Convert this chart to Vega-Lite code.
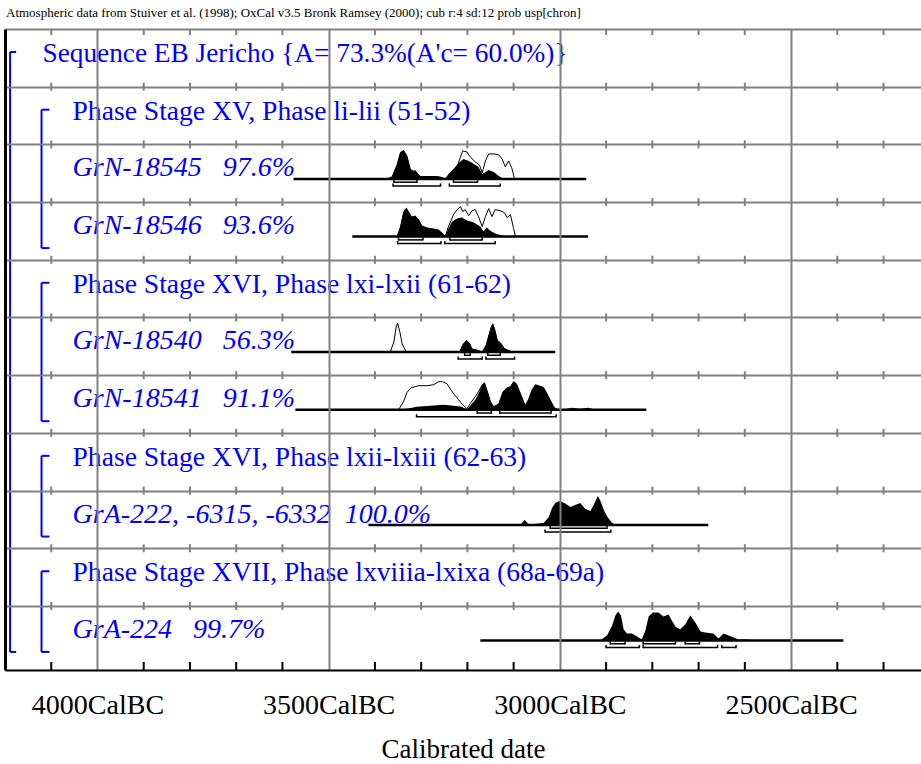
{
"$schema": "https://vega.github.io/schema/vega-lite/v6.json",
"width": 916, "height": 641,
"autosize": {"type": "none"},
"padding": {"left": 5, "top": 29, "right": 0, "bottom": 94},
"background": "white",
"config": {"view": {"stroke": null}, "font": "Liberation Serif"},
"title": {"text": "Atmospheric data from Stuiver et al. (1998); OxCal v3.5 Bronk Ramsey (2000); cub r:4 sd:12 prob usp[chron]", "anchor": "start", "fontSize": 13, "font": "Liberation Serif", "fontWeight": "normal", "color": "black", "offset": 12, "baseline": "alphabetic", "dx": 1, "dy": 14, "frame": "group"},
"datasets": {
"minor": [
{"yr":4100,"ln":[1,2,3,4,5,6,7,8,9,10]},{"yr":3900,"ln":[1,2,3,4,5,6,7,8,9,10]},{"yr":3800,"ln":[1,2,3,4,5,6,7,8,9,10]},{"yr":3700,"ln":[1,2,3,4,5,6,7,8,9,10]},{"yr":3600,"ln":[1,2,3,4,5,6,7,8,9,10]},
{"yr":3400,"ln":[1,2,3,4,5,6,7,8,9,10]},{"yr":3300,"ln":[1,2,3,4,5,6,7,8,9,10]},{"yr":3200,"ln":[1,2,3,4,5,6,7,8,9,10]},{"yr":3100,"ln":[1,2,3,4,5,6,7,8,9,10]},
{"yr":2900,"ln":[1,2,3,4,5,6,7,8,9,10]},{"yr":2800,"ln":[1,2,3,4,5,6,7,8,9,10]},{"yr":2700,"ln":[1,2,3,4,5,6,7,8,9,10]},{"yr":2600,"ln":[1,2,3,4,5,6,7,8,9,10]},
{"yr":2400,"ln":[1,2,3,4,5,6,7,8,9,10]},{"yr":2300,"ln":[1,2,3,4,5,6,7,8,9,10]}
],
"labels": [
{"row":0,"kind":"seq","txt":"Sequence EB Jericho {A= 73.3%(A'c= 60.0%)}"},
{"row":1,"kind":"phase","txt":"Phase Stage XV, Phase li-lii (51-52)"},
{"row":2,"kind":"sample","txt":"GrN-18545\u00a0\u00a0\u00a097.6%"},
{"row":3,"kind":"sample","txt":"GrN-18546\u00a0\u00a0\u00a093.6%"},
{"row":4,"kind":"phase","txt":"Phase Stage XVI, Phase lxi-lxii (61-62)"},
{"row":5,"kind":"sample","txt":"GrN-18540\u00a0\u00a0\u00a056.3%"},
{"row":6,"kind":"sample","txt":"GrN-18541\u00a0\u00a0\u00a091.1%"},
{"row":7,"kind":"phase","txt":"Phase Stage XVI, Phase lxii-lxiii (62-63)"},
{"row":8,"kind":"sample","txt":"GrA-222, -6315, -6332\u00a0\u00a0100.0%"},
{"row":9,"kind":"phase","txt":"Phase Stage XVII, Phase lxviiia-lxixa (68a-69a)"},
{"row":10,"kind":"sample","txt":"GrA-224\u00a0\u00a0\u00a099.7%"}
],
"brackets": [
{"kind":"seq","r0":0,"r1":10},{"kind":"phase","r0":1,"r1":3},{"kind":"phase","r0":4,"r1":6},{"kind":"phase","r0":7,"r1":8},{"kind":"phase","r0":9,"r1":10}
],
"lines": [
{"row":2,"a":3576,"b":2943},{"row":3,"a":3449,"b":2939},{"row":5,"a":3581,"b":3010},{"row":6,"a":3572,"b":2813},{"row":8,"a":3414,"b":2679},{"row":10,"a":3172,"b":2387}
],
"ranges": [
{"row":2,"lvl":68,"a":3359,"b":3309},{"row":2,"lvl":68,"a":3230,"b":3178},{"row":2,"lvl":95,"a":3361,"b":3258},{"row":2,"lvl":95,"a":3239,"b":3129},
{"row":3,"lvl":68,"a":3349,"b":3296},{"row":3,"lvl":68,"a":3238,"b":3168},{"row":3,"lvl":95,"a":3351,"b":3257},{"row":3,"lvl":95,"a":3249,"b":3140},
{"row":5,"lvl":68,"a":3206,"b":3194},{"row":5,"lvl":68,"a":3156,"b":3129},{"row":5,"lvl":95,"a":3220,"b":3168},{"row":5,"lvl":95,"a":3160,"b":3098},
{"row":6,"lvl":68,"a":3179,"b":3148},{"row":6,"lvl":68,"a":3130,"b":3019},{"row":6,"lvl":95,"a":3310,"b":3008},
{"row":8,"lvl":68,"a":3021,"b":2898},{"row":8,"lvl":95,"a":3032,"b":2890},
{"row":10,"lvl":68,"a":2891,"b":2859},{"row":10,"lvl":68,"a":2820,"b":2750},{"row":10,"lvl":68,"a":2729,"b":2698},
{"row":10,"lvl":95,"a":2900,"b":2828},{"row":10,"lvl":95,"a":2820,"b":2659},{"row":10,"lvl":95,"a":2650,"b":2619}
],
"dens": [
{"s":"18545","k":"P","yr":3374,"p":0},{"s":"18545","k":"P","yr":3363,"p":2},{"s":"18545","k":"P","yr":3352,"p":15},{"s":"18545","k":"P","yr":3345,"p":27},{"s":"18545","k":"P","yr":3338,"p":29},{"s":"18545","k":"P","yr":3331,"p":24},{"s":"18545","k":"P","yr":3323,"p":10},{"s":"18545","k":"P","yr":3316,"p":8},{"s":"18545","k":"P","yr":3313,"p":9},{"s":"18545","k":"P","yr":3308,"p":6},{"s":"18545","k":"P","yr":3302,"p":3},{"s":"18545","k":"P","yr":3287,"p":3},{"s":"18545","k":"P","yr":3266,"p":3},{"s":"18545","k":"P","yr":3255,"p":2},{"s":"18545","k":"P","yr":3248,"p":0},{"s":"18545","k":"P","yr":3241,"p":5},{"s":"18545","k":"P","yr":3230,"p":10},{"s":"18545","k":"P","yr":3219,"p":16},{"s":"18545","k":"P","yr":3208,"p":20},{"s":"18545","k":"P","yr":3197,"p":18},{"s":"18545","k":"P","yr":3186,"p":15},{"s":"18545","k":"P","yr":3176,"p":12},{"s":"18545","k":"P","yr":3168,"p":5},{"s":"18545","k":"P","yr":3161,"p":7},{"s":"18545","k":"P","yr":3154,"p":9},{"s":"18545","k":"P","yr":3143,"p":7},{"s":"18545","k":"P","yr":3132,"p":3},{"s":"18545","k":"P","yr":3122,"p":0},
{"s":"18545","k":"L","yr":3374,"p":0},{"s":"18545","k":"L","yr":3363,"p":2},{"s":"18545","k":"L","yr":3352,"p":14},{"s":"18545","k":"L","yr":3345,"p":26},{"s":"18545","k":"L","yr":3338,"p":28},{"s":"18545","k":"L","yr":3331,"p":23},{"s":"18545","k":"L","yr":3323,"p":9},{"s":"18545","k":"L","yr":3316,"p":7},{"s":"18545","k":"L","yr":3313,"p":8},{"s":"18545","k":"L","yr":3308,"p":5},{"s":"18545","k":"L","yr":3302,"p":2},{"s":"18545","k":"L","yr":3287,"p":2},{"s":"18545","k":"L","yr":3266,"p":2},{"s":"18545","k":"L","yr":3255,"p":1},{"s":"18545","k":"L","yr":3248,"p":0},{"s":"18545","k":"L","yr":3237,"p":4},{"s":"18545","k":"L","yr":3222,"p":12},{"s":"18545","k":"L","yr":3215,"p":22},{"s":"18545","k":"L","yr":3210,"p":28},{"s":"18545","k":"L","yr":3201,"p":27},{"s":"18545","k":"L","yr":3194,"p":22},{"s":"18545","k":"L","yr":3183,"p":17},{"s":"18545","k":"L","yr":3174,"p":14},{"s":"18545","k":"L","yr":3168,"p":6},{"s":"18545","k":"L","yr":3161,"p":18},{"s":"18545","k":"L","yr":3154,"p":25},{"s":"18545","k":"L","yr":3143,"p":25},{"s":"18545","k":"L","yr":3132,"p":24},{"s":"18545","k":"L","yr":3125,"p":20},{"s":"18545","k":"L","yr":3118,"p":12},{"s":"18545","k":"L","yr":3111,"p":18},{"s":"18545","k":"L","yr":3104,"p":11},{"s":"18545","k":"L","yr":3098,"p":0},
{"s":"18546","k":"P","yr":3352,"p":0},{"s":"18546","k":"P","yr":3345,"p":10},{"s":"18546","k":"P","yr":3338,"p":25},{"s":"18546","k":"P","yr":3332,"p":29},{"s":"18546","k":"P","yr":3327,"p":25},{"s":"18546","k":"P","yr":3320,"p":20},{"s":"18546","k":"P","yr":3313,"p":21},{"s":"18546","k":"P","yr":3305,"p":17},{"s":"18546","k":"P","yr":3298,"p":11},{"s":"18546","k":"P","yr":3287,"p":9},{"s":"18546","k":"P","yr":3273,"p":8},{"s":"18546","k":"P","yr":3262,"p":7},{"s":"18546","k":"P","yr":3255,"p":4},{"s":"18546","k":"P","yr":3248,"p":0},{"s":"18546","k":"P","yr":3241,"p":8},{"s":"18546","k":"P","yr":3233,"p":15},{"s":"18546","k":"P","yr":3222,"p":18},{"s":"18546","k":"P","yr":3212,"p":19},{"s":"18546","k":"P","yr":3201,"p":16},{"s":"18546","k":"P","yr":3186,"p":14},{"s":"18546","k":"P","yr":3172,"p":10},{"s":"18546","k":"P","yr":3165,"p":5},{"s":"18546","k":"P","yr":3158,"p":9},{"s":"18546","k":"P","yr":3151,"p":6},{"s":"18546","k":"P","yr":3140,"p":3},{"s":"18546","k":"P","yr":3125,"p":1},{"s":"18546","k":"P","yr":3114,"p":0},
{"s":"18546","k":"L","yr":3352,"p":0},{"s":"18546","k":"L","yr":3345,"p":9},{"s":"18546","k":"L","yr":3338,"p":24},{"s":"18546","k":"L","yr":3332,"p":28},{"s":"18546","k":"L","yr":3327,"p":24},{"s":"18546","k":"L","yr":3320,"p":19},{"s":"18546","k":"L","yr":3313,"p":20},{"s":"18546","k":"L","yr":3305,"p":16},{"s":"18546","k":"L","yr":3298,"p":10},{"s":"18546","k":"L","yr":3287,"p":8},{"s":"18546","k":"L","yr":3273,"p":7},{"s":"18546","k":"L","yr":3262,"p":6},{"s":"18546","k":"L","yr":3255,"p":3},{"s":"18546","k":"L","yr":3248,"p":0},{"s":"18546","k":"L","yr":3241,"p":10},{"s":"18546","k":"L","yr":3230,"p":22},{"s":"18546","k":"L","yr":3222,"p":27},{"s":"18546","k":"L","yr":3215,"p":30},{"s":"18546","k":"L","yr":3210,"p":25},{"s":"18546","k":"L","yr":3205,"p":27},{"s":"18546","k":"L","yr":3197,"p":21},{"s":"18546","k":"L","yr":3190,"p":26},{"s":"18546","k":"L","yr":3183,"p":27},{"s":"18546","k":"L","yr":3176,"p":20},{"s":"18546","k":"L","yr":3168,"p":10},{"s":"18546","k":"L","yr":3161,"p":20},{"s":"18546","k":"L","yr":3154,"p":28},{"s":"18546","k":"L","yr":3147,"p":20},{"s":"18546","k":"L","yr":3140,"p":27},{"s":"18546","k":"L","yr":3129,"p":26},{"s":"18546","k":"L","yr":3120,"p":24},{"s":"18546","k":"L","yr":3114,"p":19},{"s":"18546","k":"L","yr":3107,"p":22},{"s":"18546","k":"L","yr":3100,"p":8},{"s":"18546","k":"L","yr":3096,"p":0},
{"s":"18540","k":"L","yr":3367,"p":0},{"s":"18540","k":"L","yr":3359,"p":10},{"s":"18540","k":"L","yr":3354,"p":25},{"s":"18540","k":"L","yr":3351,"p":29},{"s":"18540","k":"L","yr":3346,"p":20},{"s":"18540","k":"L","yr":3341,"p":8},{"s":"18540","k":"L","yr":3332,"p":0},{"s":"18540","k":"L","yr":3217,"p":0},{"s":"18540","k":"L","yr":3210,"p":7},{"s":"18540","k":"L","yr":3202,"p":11},{"s":"18540","k":"L","yr":3195,"p":8},{"s":"18540","k":"L","yr":3190,"p":3},{"s":"18540","k":"L","yr":3179,"p":2},{"s":"18540","k":"L","yr":3168,"p":0},{"s":"18540","k":"L","yr":3159,"p":7},{"s":"18540","k":"L","yr":3154,"p":16},{"s":"18540","k":"L","yr":3149,"p":24},{"s":"18540","k":"L","yr":3145,"p":28},{"s":"18540","k":"L","yr":3140,"p":21},{"s":"18540","k":"L","yr":3135,"p":11},{"s":"18540","k":"L","yr":3127,"p":8},{"s":"18540","k":"L","yr":3120,"p":3},{"s":"18540","k":"L","yr":3111,"p":1},{"s":"18540","k":"L","yr":3100,"p":0},
{"s":"18540","k":"P","yr":3217,"p":0},{"s":"18540","k":"P","yr":3210,"p":8},{"s":"18540","k":"P","yr":3202,"p":12},{"s":"18540","k":"P","yr":3195,"p":9},{"s":"18540","k":"P","yr":3190,"p":3},{"s":"18540","k":"P","yr":3179,"p":2},{"s":"18540","k":"P","yr":3168,"p":0},{"s":"18540","k":"P","yr":3159,"p":8},{"s":"18540","k":"P","yr":3154,"p":17},{"s":"18540","k":"P","yr":3149,"p":25},{"s":"18540","k":"P","yr":3145,"p":29},{"s":"18540","k":"P","yr":3140,"p":22},{"s":"18540","k":"P","yr":3135,"p":12},{"s":"18540","k":"P","yr":3127,"p":9},{"s":"18540","k":"P","yr":3120,"p":4},{"s":"18540","k":"P","yr":3111,"p":2},{"s":"18540","k":"P","yr":3100,"p":0},
{"s":"18541","k":"L","yr":3349,"p":0},{"s":"18541","k":"L","yr":3338,"p":8},{"s":"18541","k":"L","yr":3331,"p":17},{"s":"18541","k":"L","yr":3322,"p":22},{"s":"18541","k":"L","yr":3313,"p":23},{"s":"18541","k":"L","yr":3307,"p":24},{"s":"18541","k":"L","yr":3298,"p":24},{"s":"18541","k":"L","yr":3287,"p":24},{"s":"18541","k":"L","yr":3273,"p":25},{"s":"18541","k":"L","yr":3262,"p":28},{"s":"18541","k":"L","yr":3254,"p":28},{"s":"18541","k":"L","yr":3244,"p":26},{"s":"18541","k":"L","yr":3236,"p":20},{"s":"18541","k":"L","yr":3228,"p":15},{"s":"18541","k":"L","yr":3219,"p":10},{"s":"18541","k":"L","yr":3210,"p":5},{"s":"18541","k":"L","yr":3201,"p":1},{"s":"18541","k":"L","yr":3194,"p":6},{"s":"18541","k":"L","yr":3183,"p":13},{"s":"18541","k":"L","yr":3176,"p":18},{"s":"18541","k":"L","yr":3168,"p":25},{"s":"18541","k":"L","yr":3163,"p":27},{"s":"18541","k":"L","yr":3158,"p":20},{"s":"18541","k":"L","yr":3150,"p":8},{"s":"18541","k":"L","yr":3143,"p":3},{"s":"18541","k":"L","yr":3132,"p":6},{"s":"18541","k":"L","yr":3123,"p":18},{"s":"18541","k":"L","yr":3114,"p":22},{"s":"18541","k":"L","yr":3107,"p":23},{"s":"18541","k":"L","yr":3100,"p":28},{"s":"18541","k":"L","yr":3094,"p":26},{"s":"18541","k":"L","yr":3086,"p":17},{"s":"18541","k":"L","yr":3075,"p":4},{"s":"18541","k":"L","yr":3068,"p":10},{"s":"18541","k":"L","yr":3060,"p":20},{"s":"18541","k":"L","yr":3053,"p":25},{"s":"18541","k":"L","yr":3046,"p":24},{"s":"18541","k":"L","yr":3035,"p":22},{"s":"18541","k":"L","yr":3028,"p":16},{"s":"18541","k":"L","yr":3019,"p":8},{"s":"18541","k":"L","yr":3012,"p":2},{"s":"18541","k":"L","yr":3003,"p":0},
{"s":"18541","k":"P","yr":3349,"p":0},{"s":"18541","k":"P","yr":3331,"p":1},{"s":"18541","k":"P","yr":3309,"p":3},{"s":"18541","k":"P","yr":3280,"p":4},{"s":"18541","k":"P","yr":3251,"p":5},{"s":"18541","k":"P","yr":3230,"p":4},{"s":"18541","k":"P","yr":3212,"p":3},{"s":"18541","k":"P","yr":3201,"p":0},{"s":"18541","k":"P","yr":3194,"p":4},{"s":"18541","k":"P","yr":3183,"p":10},{"s":"18541","k":"P","yr":3176,"p":16},{"s":"18541","k":"P","yr":3168,"p":25},{"s":"18541","k":"P","yr":3163,"p":27},{"s":"18541","k":"P","yr":3158,"p":20},{"s":"18541","k":"P","yr":3150,"p":8},{"s":"18541","k":"P","yr":3143,"p":3},{"s":"18541","k":"P","yr":3132,"p":6},{"s":"18541","k":"P","yr":3123,"p":18},{"s":"18541","k":"P","yr":3114,"p":22},{"s":"18541","k":"P","yr":3107,"p":23},{"s":"18541","k":"P","yr":3100,"p":28},{"s":"18541","k":"P","yr":3094,"p":26},{"s":"18541","k":"P","yr":3086,"p":17},{"s":"18541","k":"P","yr":3075,"p":4},{"s":"18541","k":"P","yr":3068,"p":10},{"s":"18541","k":"P","yr":3060,"p":20},{"s":"18541","k":"P","yr":3053,"p":25},{"s":"18541","k":"P","yr":3046,"p":24},{"s":"18541","k":"P","yr":3035,"p":22},{"s":"18541","k":"P","yr":3028,"p":16},{"s":"18541","k":"P","yr":3019,"p":8},{"s":"18541","k":"P","yr":3012,"p":2},{"s":"18541","k":"P","yr":3003,"p":0},{"s":"18541","k":"P","yr":2985,"p":1},{"s":"18541","k":"P","yr":2974,"p":2},{"s":"18541","k":"P","yr":2956,"p":1},{"s":"18541","k":"P","yr":2938,"p":2},{"s":"18541","k":"P","yr":2923,"p":0},
{"s":"GrA-222","k":"P","yr":3086,"p":0},{"s":"GrA-222","k":"P","yr":3076,"p":5},{"s":"GrA-222","k":"P","yr":3068,"p":1},{"s":"GrA-222","k":"P","yr":3057,"p":1},{"s":"GrA-222","k":"P","yr":3035,"p":2},{"s":"GrA-222","k":"P","yr":3024,"p":8},{"s":"GrA-222","k":"P","yr":3017,"p":17},{"s":"GrA-222","k":"P","yr":3010,"p":22},{"s":"GrA-222","k":"P","yr":3001,"p":24},{"s":"GrA-222","k":"P","yr":2990,"p":22},{"s":"GrA-222","k":"P","yr":2977,"p":18},{"s":"GrA-222","k":"P","yr":2967,"p":20},{"s":"GrA-222","k":"P","yr":2956,"p":22},{"s":"GrA-222","k":"P","yr":2945,"p":16},{"s":"GrA-222","k":"P","yr":2934,"p":14},{"s":"GrA-222","k":"P","yr":2927,"p":20},{"s":"GrA-222","k":"P","yr":2918,"p":29},{"s":"GrA-222","k":"P","yr":2913,"p":25},{"s":"GrA-222","k":"P","yr":2905,"p":15},{"s":"GrA-222","k":"P","yr":2897,"p":8},{"s":"GrA-222","k":"P","yr":2887,"p":2},{"s":"GrA-222","k":"P","yr":2877,"p":0},
{"s":"GrA-224","k":"P","yr":2913,"p":0},{"s":"GrA-224","k":"P","yr":2898,"p":5},{"s":"GrA-224","k":"P","yr":2887,"p":15},{"s":"GrA-224","k":"P","yr":2880,"p":25},{"s":"GrA-224","k":"P","yr":2874,"p":29},{"s":"GrA-224","k":"P","yr":2868,"p":25},{"s":"GrA-224","k":"P","yr":2862,"p":11},{"s":"GrA-224","k":"P","yr":2855,"p":7},{"s":"GrA-224","k":"P","yr":2844,"p":7},{"s":"GrA-224","k":"P","yr":2833,"p":4},{"s":"GrA-224","k":"P","yr":2823,"p":1},{"s":"GrA-224","k":"P","yr":2815,"p":10},{"s":"GrA-224","k":"P","yr":2808,"p":24},{"s":"GrA-224","k":"P","yr":2799,"p":28},{"s":"GrA-224","k":"P","yr":2787,"p":28},{"s":"GrA-224","k":"P","yr":2776,"p":24},{"s":"GrA-224","k":"P","yr":2765,"p":26},{"s":"GrA-224","k":"P","yr":2758,"p":20},{"s":"GrA-224","k":"P","yr":2750,"p":14},{"s":"GrA-224","k":"P","yr":2740,"p":11},{"s":"GrA-224","k":"P","yr":2729,"p":16},{"s":"GrA-224","k":"P","yr":2718,"p":25},{"s":"GrA-224","k":"P","yr":2707,"p":18},{"s":"GrA-224","k":"P","yr":2696,"p":9},{"s":"GrA-224","k":"P","yr":2686,"p":8},{"s":"GrA-224","k":"P","yr":2668,"p":7},{"s":"GrA-224","k":"P","yr":2657,"p":2},{"s":"GrA-224","k":"P","yr":2646,"p":7},{"s":"GrA-224","k":"P","yr":2635,"p":5},{"s":"GrA-224","k":"P","yr":2624,"p":3},{"s":"GrA-224","k":"P","yr":2614,"p":1},{"s":"GrA-224","k":"P","yr":2596,"p":1},{"s":"GrA-224","k":"P","yr":2581,"p":0}
]
},
"resolve": {"scale": {"y": "independent"}, "axis": {"y": "independent"}},
"layer": [
{
"layer": [
{"data": {"name": "minor"}, "transform": [{"flatten": ["ln"]}],
 "mark": {"type": "rule", "color": "#808080", "strokeWidth": 2, "yOffset": -4, "y2Offset": 4},
 "encoding": {
  "x": {"field": "yr", "type": "quantitative", "scale": {"domain": [2219, 4200], "reverse": true, "nice": false, "zero": false},
   "axis": {"values": [4000, 3500, 3000, 2500], "grid": true, "gridColor": "#808080", "gridWidth": 2, "ticks": false, "domain": true, "domainColor": "black", "domainWidth": 2, "labelExpr": "datum.value + 'CalBC'", "labelFont": "Liberation Serif", "labelFontSize": 28, "labelColor": "black", "labelBaseline": "alphabetic", "labelPadding": 43, "labelFlush": false, "labelOverlap": false, "title": "Calibrated date", "titleFont": "Liberation Serif", "titleFontSize": 27, "titleFontWeight": "normal", "titleColor": "black", "titleBaseline": "alphabetic", "titleY": 87, "zindex": 1}},
  "y": {"field": "ln", "type": "quantitative", "scale": {"domain": [0, 11.11], "reverse": true, "nice": false, "zero": false},
   "axis": {"values": [0,1,2,3,4,5,6,7,8,9,10], "grid": true, "gridColor": "#808080", "gridWidth": 2, "ticks": false, "labels": false, "domain": true, "domainColor": "black", "domainWidth": 3, "title": null, "zindex": 1}},
  "y2": {"field": "ln"}
 }},
{"data": {"name": "minor"},
 "mark": {"type": "rule", "color": "#808080", "strokeWidth": 2, "y2Offset": 6},
 "encoding": {"x": {"field": "yr", "type": "quantitative"}, "y": {"datum": 0}, "y2": {"datum": 0}}},
{"data": {"name": "minor"},
 "mark": {"type": "rule", "color": "black", "strokeWidth": 2, "yOffset": -8},
 "encoding": {"x": {"field": "yr", "type": "quantitative"}, "y": {"datum": 11.11}, "y2": {"datum": 11.11}}},
{"data": {"name": "labels"}, "transform": [{"filter": "datum.kind == 'seq'"}],
 "mark": {"type": "text", "align": "left", "baseline": "alphabetic", "dy": 33, "font": "Liberation Serif", "fontSize": 27.3, "color": "blue"},
 "encoding": {"x": {"datum": 4119}, "y": {"field": "row", "type": "quantitative"}, "text": {"field": "txt"}}},
{"data": {"name": "labels"}, "transform": [{"filter": "datum.kind == 'phase'"}],
 "mark": {"type": "text", "align": "left", "baseline": "alphabetic", "dy": 33, "font": "Liberation Serif", "fontSize": 27.6, "color": "blue"},
 "encoding": {"x": {"datum": 4054}, "y": {"field": "row", "type": "quantitative"}, "text": {"field": "txt"}}},
{"data": {"name": "labels"}, "transform": [{"filter": "datum.kind == 'sample'"}],
 "mark": {"type": "text", "align": "left", "baseline": "alphabetic", "dy": 32, "font": "Liberation Serif", "fontSize": 28, "fontStyle": "italic", "color": "blue"},
 "encoding": {"x": {"datum": 4054}, "y": {"field": "row", "type": "quantitative"}, "text": {"field": "txt"}}},
{"data": {"name": "brackets"}, "transform": [{"filter": "datum.kind == 'seq'"}],
 "mark": {"type": "rule", "color": "blue", "strokeWidth": 2, "yOffset": 23, "y2Offset": 46},
 "encoding": {"x": {"datum": 4189}, "y": {"field": "r0", "type": "quantitative"}, "y2": {"field": "r1"}}},
{"data": {"name": "brackets"}, "transform": [{"filter": "datum.kind == 'seq'"}],
 "mark": {"type": "rule", "color": "blue", "strokeWidth": 2, "yOffset": 23},
 "encoding": {"x": {"datum": 4189}, "x2": {"datum": 4176}, "y": {"field": "r0", "type": "quantitative"}}},
{"data": {"name": "brackets"}, "transform": [{"filter": "datum.kind == 'seq'"}],
 "mark": {"type": "rule", "color": "blue", "strokeWidth": 2, "yOffset": 46},
 "encoding": {"x": {"datum": 4189}, "x2": {"datum": 4176}, "y": {"field": "r1", "type": "quantitative"}}},
{"data": {"name": "brackets"}, "transform": [{"filter": "datum.kind == 'phase'"}],
 "mark": {"type": "rule", "color": "blue", "strokeWidth": 2, "yOffset": 23, "y2Offset": 46},
 "encoding": {"x": {"datum": 4121}, "y": {"field": "r0", "type": "quantitative"}, "y2": {"field": "r1"}}},
{"data": {"name": "brackets"}, "transform": [{"filter": "datum.kind == 'phase'"}],
 "mark": {"type": "rule", "color": "blue", "strokeWidth": 2, "yOffset": 23},
 "encoding": {"x": {"datum": 4121}, "x2": {"datum": 4104}, "y": {"field": "r0", "type": "quantitative"}}},
{"data": {"name": "brackets"}, "transform": [{"filter": "datum.kind == 'phase'"}],
 "mark": {"type": "rule", "color": "blue", "strokeWidth": 2, "yOffset": 46},
 "encoding": {"x": {"datum": 4121}, "x2": {"datum": 4104}, "y": {"field": "r1", "type": "quantitative"}}}
]
},
{"data": {"name": "dens"}, "transform": [{"filter": "datum.s == '18545'"}],
 "encoding": {"x": {"field": "yr", "type": "quantitative"}, "y": {"field": "p", "type": "quantitative", "scale": {"domain": [-491.1, 149.9], "nice": false, "zero": false}, "axis": null}, "y2": {"datum": 0}},
 "layer": [
  {"transform": [{"filter": "datum.k == 'L'"}], "mark": {"type": "area", "fill": "white", "stroke": "black", "strokeWidth": 1}},
  {"transform": [{"filter": "datum.k == 'P'"}], "mark": {"type": "area", "color": "black"}}
 ]},
{"data": {"name": "dens"}, "transform": [{"filter": "datum.s == '18546'"}],
 "encoding": {"x": {"field": "yr", "type": "quantitative"}, "y": {"field": "p", "type": "quantitative", "scale": {"domain": [-433.4, 207.6], "nice": false, "zero": false}, "axis": null}, "y2": {"datum": 0}},
 "layer": [
  {"transform": [{"filter": "datum.k == 'L'"}], "mark": {"type": "area", "fill": "white", "stroke": "black", "strokeWidth": 1}},
  {"transform": [{"filter": "datum.k == 'P'"}], "mark": {"type": "area", "color": "black"}}
 ]},
{"data": {"name": "dens"}, "transform": [{"filter": "datum.s == '18540'"}],
 "encoding": {"x": {"field": "yr", "type": "quantitative"}, "y": {"field": "p", "type": "quantitative", "scale": {"domain": [-318, 323], "nice": false, "zero": false}, "axis": null}, "y2": {"datum": 0}},
 "layer": [
  {"transform": [{"filter": "datum.k == 'L'"}], "mark": {"type": "area", "fill": "white", "stroke": "black", "strokeWidth": 1}},
  {"transform": [{"filter": "datum.k == 'P'"}], "mark": {"type": "area", "color": "black"}}
 ]},
{"data": {"name": "dens"}, "transform": [{"filter": "datum.s == '18541'"}],
 "encoding": {"x": {"field": "yr", "type": "quantitative"}, "y": {"field": "p", "type": "quantitative", "scale": {"domain": [-260.3, 380.7], "nice": false, "zero": false}, "axis": null}, "y2": {"datum": 0}},
 "layer": [
  {"transform": [{"filter": "datum.k == 'L'"}], "mark": {"type": "area", "fill": "white", "stroke": "black", "strokeWidth": 1}},
  {"transform": [{"filter": "datum.k == 'P'"}], "mark": {"type": "area", "color": "black"}}
 ]},
{"data": {"name": "dens"}, "transform": [{"filter": "datum.s == 'GrA-222'"}],
 "mark": {"type": "area", "color": "black"},
 "encoding": {"x": {"field": "yr", "type": "quantitative"}, "y": {"field": "p", "type": "quantitative", "scale": {"domain": [-144.9, 496.1], "nice": false, "zero": false}, "axis": null}, "y2": {"datum": 0}}},
{"data": {"name": "dens"}, "transform": [{"filter": "datum.s == 'GrA-224'"}],
 "mark": {"type": "area", "color": "black"},
 "encoding": {"x": {"field": "yr", "type": "quantitative"}, "y": {"field": "p", "type": "quantitative", "scale": {"domain": [-29.5, 611.5], "nice": false, "zero": false}, "axis": null}, "y2": {"datum": 0}}},
{
"encoding": {"y": {"field": "row", "type": "quantitative", "scale": {"domain": [0, 11.11], "reverse": true, "nice": false, "zero": false}, "axis": null}},
"layer": [
{"data": {"name": "lines"}, "mark": {"type": "rule", "color": "black", "strokeWidth": 2.5, "yOffset": 34.5},
 "encoding": {"x": {"field": "a", "type": "quantitative"}, "x2": {"field": "b"}}},
{"data": {"name": "ranges"}, "transform": [{"filter": "datum.lvl == 68"}], "mark": {"type": "rule", "color": "black", "strokeWidth": 1.5, "yOffset": 37.8},
 "encoding": {"x": {"field": "a", "type": "quantitative"}, "x2": {"field": "b"}}},
{"data": {"name": "ranges"}, "transform": [{"filter": "datum.lvl == 68"}, {"fold": ["a", "b"], "as": ["end", "v"]}], "mark": {"type": "rule", "color": "black", "strokeWidth": 1.5, "yOffset": 35.5, "y2Offset": 38.5},
 "encoding": {"x": {"field": "v", "type": "quantitative"}, "y2": {"field": "row"}}},
{"data": {"name": "ranges"}, "transform": [{"filter": "datum.lvl == 95"}], "mark": {"type": "rule", "color": "black", "strokeWidth": 1.5, "yOffset": 41.5},
 "encoding": {"x": {"field": "a", "type": "quantitative"}, "x2": {"field": "b"}}},
{"data": {"name": "ranges"}, "transform": [{"filter": "datum.lvl == 95"}, {"fold": ["a", "b"], "as": ["end", "v"]}], "mark": {"type": "rule", "color": "black", "strokeWidth": 1.5, "yOffset": 39, "y2Offset": 42.2},
 "encoding": {"x": {"field": "v", "type": "quantitative"}, "y2": {"field": "row"}}}
]
}
]
}
